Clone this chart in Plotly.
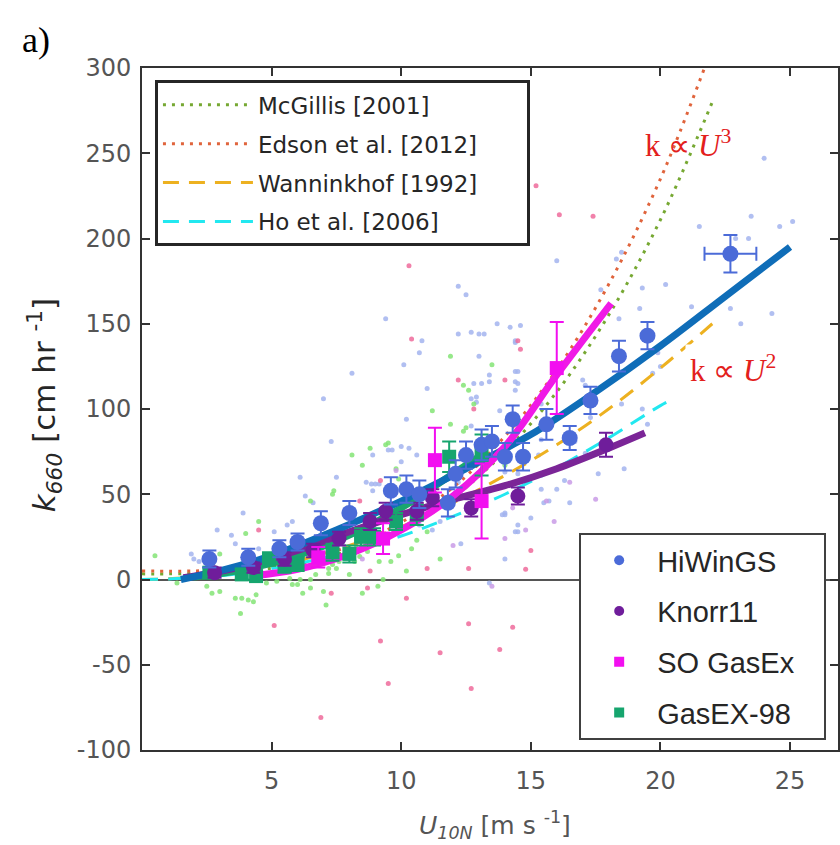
import plotly.graph_objects as go

# ---------------- data ----------------
# individual (light) points
hw_pts_u = [24.0,25.1,24.6,23.5,21.5,22.9,23.4,22.7,24.3,23.1,20.2,19.3,19.2,18.4,17.7,16.0,12.2,12.5,13.7,14.2,14.6,13.0,12.7,10.8,18.5,18.3,17.1,17.0,19.9,19.7,14.4,15.4,18.5,19.3,19.5,20.0,18.5,14.5,15.4,16.0,16.3,17.6,15.0,14.5,14.0,16.7,17.1,18.6,15.7,9.4,12.2,13.2,10.7,10.1,14.4,13.0,14.4,12.8,13.1,13.4,12.7,12.9,14.4,14.5,10.2,9.5,8.9,10.0,10.6,11.35,12.2,8.65,9.0,10.3,15.4,15.6,15.3,14.2,14.0,15.5,13.9,7.0,8.1,7.3,6.1,7.5,6.3,6.6,3.9,2.9,3.45,1.9,2.2,5.1,5.6,5.8,7.5,7.6,8.3,9.8,10.7,11.2,11.5,12.3,13.4,14.0,14.4,14.5,14.0,14.5,13.4,13.8,14.4,12.7,12.9,9.65,10.0,8.9,9.15,3.6,4.5,2.0,7.2,8.85,16.5,17.3,21.2,11.0]
hw_pts_k = [247,210,207,213,207,200,200,159,156,150,173,171,159,153,170,187,172,167,150,148,149,144,145,140,192,188,114,117,133,121,116,103,103,100,91,125,122,62,53,53,58,62,36,28,38,81,74,65,46,153,144,144,133,126,139,131,122,115,115,116,106,107,111,115,94,76,73,69,73,57,57,57,56,77,82,91,73,56,63,45,38,106,121,81,60,60,49,45,39,29,26,15,10.5,28,32,34,29,21,30,32,32,29,34,21,-2,12,28,32,39,122,120,99,140,90,104,76,78,52,56,21,18,12,24,56,45,95,160,112]

g98_pts_u = [1.35,2.5,2.7,3.0,3.6,3.85,4.1,4.3,4.4,3.8,5.8,6.0,6.2,6.5,7.0,7.1,8.5,9.1,5.2,0.5,3.0,4.5,4.0,7.2,8.1,8.5,7.4,6.5,7.2,7.5,8.2,8.4,8.7,6.5,11.9,13.5,12.4,11.2,12.8,9.5,8.8,7.35,11.0,10.6,10.4,9.9,9.6,9.15,9.3,6.1,5.7,7.35,7.6,12.4,9.9,9.8,13.5,14.0,12.6,9.4,11.9,12.5,6.7,4.8,8.0,10.2,11.5]
g98_pts_k = [-2,-4,-8,-7,-11,-11,-12,-13,-9,-20,-3,-3,-8,-5,-7,-15,-8,-4,-1,14,15,34,27,6.5,73,67,52,46,3.5,6.5,10.5,13.5,16.4,0,131,126,114,99,103,80,77,50,28,23,18,14,10.5,10.5,0,0,0.6,8.8,10.5,87,59,65,81,67,111,79,91,89,3,-2,3,5,12]

so_pts_u = [5.1,9.2,9.5,6.9,10.2,11.5,12.6,12.7,13.8,14.3,7.3,8.7,11.0,12.6,14.8,15.0,10.4,14.6,12.2,12.8,4.5,8.8,14.0,9.2,15.2,16.1,17.4,12.2,10.3,14.5,8.4]
so_pts_k = [-27,-36,-61,-81,-11,-43,-26,-64,-41,-28,-8,-5,6.5,6.5,6,17,141,135,117,100,29,5,117,58,231,214,213,234,184,140,46]

kn_pts_u = [13.5,13.4,14.3,14.8,15.9,15.6,16.5,10.0,12.0,8.5,17.5,9.8,12.3,14.0]
kn_pts_k = [-4,217,42,29,34,46,57,30,20,12,47,64,50,24]

# bin averages
hw_u = [2.6,4.1,5.3,6.0,6.9,8.0,9.6,10.2,10.7,11.8,12.1,12.5,13.1,13.5,14.0,14.3,14.7,15.6,16.5,17.3,18.4,19.5,22.7]
hw_k = [12,13,18,22,33,39,52,53,50,45,62,73,79,81,72,94,72,91,83,105,131,143,191]
hw_e = [5,5,5,5,7,7,8,8,8,8,8,8,9,9,8,8,8,9,7,8,9,8,11]
hw_xe = [0,0,0,0,0,0,0,0,0,0,0,0,0,0,0,0,0,0,0,0,0,0,1.0]

kn_u = [2.8,4.3,5.5,6.6,7.6,8.8,9.4,10.6,11.2,12.7,14.5,17.9]
kn_k = [4,7,12,17,24,34,40,40,48,42,49,79]
kn_e = [3,3,4,4,4,5,5,5,5,5,5,7]

so_u = [6.8,9.3,11.3,13.1,16.0]
so_k = [13,24,70,46,124]
so_e = [6,9,19,22,27]

g98_u = [2.6,3.85,4.4,4.9,5.5,6.0,7.35,8.0,8.45,8.95,9.8,10.6,11.85,13.1]
g98_k = [4,3,2,12,8,9,16,15,25,25,34,38,72,73]
g98_e = [3,3,3,4,4,4,5,5,5,5,5,6,9,12]

# fitted curves
hw_fit_u = [1.5,3,5,7.5,10,12.5,15,17.5,20,22.5,25]
hw_fit_k = [0,5,14,29,46,65,85,110,137,166,195]
so_fit_u = [4.2,6,8,10,12,14,16,18.1]
so_fit_k = [2,6,15,29,49,78,120,162]
kn_fit_u = [1.6,4,6,8,10,12,14,16,18,19.4]
kn_fit_k = [1,8,17,28,38,47,55,65,77,86]
g98_fit_u = [2,4,6,8,10,12,13.1]
g98_fit_k = [1.5,6,14,26,42,62,73]

# published parameterisations
mcg_u = [0,2,4,6,8,10,12,14,16,18,20,22]
mcg_k = [3.3,3.5,5,9,17,29,48,75,110,155,211,280]
eds_u = [0,2,4,6,8,10,12,14,16,18,20,21.7]
eds_k = [5,5,6.5,11,19.5,33.5,54,84,123,173,235,300]
wan_u = [0,2,4,6,8,10,12,14,16,18,20,22]
wan_k = [0,1.2,5,11,20,31,45,61,79,100,124,150]
ho_u = [0,2,4,6,8,10,12,14,16,18,20,20.5]
ho_k = [0,1,4,9.3,16.4,25.5,37,50,65.5,83,102,106]

x_ticks = [5,10,15,20,25]
x_tick_text = ["5","10","15","20","25"]
y_ticks = [-100,-50,0,50,100,150,200,250,300]
y_tick_text = ["-100","-50","0","50","100","150","200","250","300"]

ref_names = ["McGillis [2001]", "Edson et al. [2012]", "Wanninkhof [1992]", "Ho et al. [2006]"]
campaigns = ["HiWinGS", "Knorr11", "SO GasEx", "GasEX-98"]

# ---------------- figure ----------------
SANS = "Liberation Sans, Arial, sans-serif"
WIDE = "DejaVu Sans, sans-serif"
SERIF = "Liberation Serif, Times New Roman, serif"
NB = "\u00a0"
fig = go.Figure()

def dots(u, k, color):
    fig.add_trace(go.Scatter(x=u, y=k, mode="markers", showlegend=False, hoverinfo="skip",
                             marker=dict(size=5, color=color, opacity=0.85, line=dict(width=0))))

dots(hw_pts_u, hw_pts_k, "#a3b4ef")
dots(g98_pts_u, g98_pts_k, "#84e475")
dots(kn_pts_u, kn_pts_k, "#c99be6")
dots(so_pts_u, so_pts_k, "#ee6b9b")

# legend 1: parameterisations
ref = [(ref_names[0], mcg_u, mcg_k, "#76a832", "3px,6px"),
       (ref_names[1], eds_u, eds_k, "#e0643c", "3px,6px"),
       (ref_names[2], wan_u, wan_k, "#edb120", "16px,10px"),
       (ref_names[3], ho_u, ho_k, "#22e8f0", "16px,10px")]
for i, (name, u, k, c, d) in enumerate(ref):
    fig.add_trace(go.Scatter(x=u, y=k, mode="lines", name=name + NB * 6, legend="legend",
                             legendgroup="r%d" % i, line=dict(color=c, width=3, dash=d, shape="spline")))

# fit lines
for u, k, c in [(g98_fit_u, g98_fit_k, "#19a66f"), (kn_fit_u, kn_fit_k, "#7b2597"),
                (hw_fit_u, hw_fit_k, "#0f6db8"), (so_fit_u, so_fit_k, "#f019e6")]:
    fig.add_trace(go.Scatter(x=u, y=k, mode="lines", showlegend=False, hoverinfo="skip",
                             line=dict(color=c, width=7, shape="spline")))

# bin averages with error bars
def bins(u, k, e, color, symbol, size, xe=None):
    fig.add_trace(go.Scatter(
        x=u, y=k, mode="markers", showlegend=False,
        marker=dict(color=color, symbol=symbol, size=size, line=dict(width=0)),
        error_y=dict(type="data", array=e, color=color, thickness=2, width=7),
        error_x=dict(type="data", array=xe, color=color, thickness=2, width=7, visible=xe is not None)))

bins(g98_u, g98_k, g98_e, "#16a56e", "square", 14)
bins(kn_u, kn_k, kn_e, "#6f1d9b", "circle", 15)
bins(hw_u, hw_k, hw_e, "#4b6bd8", "circle", 16, hw_xe)
bins(so_u, so_k, so_e, "#f20ff0", "square", 14)

# legend 2: campaigns
for i, (name, c, s) in enumerate(zip(campaigns, ["#4b6bd8", "#6f1d9b", "#f20ff0", "#16a56e"],
                                     ["circle", "circle", "square", "square"])):
    fig.add_trace(go.Scatter(x=[None], y=[None], mode="markers", name=name + NB * 3, legend="legend2",
                             legendgroup="c%d" % i, marker=dict(color=c, symbol=s, size=10)))

axis_common = dict(showgrid=False, ticks="inside", ticklen=8, tickwidth=1.5, tickcolor="#333333",
                   showline=True, linecolor="#333333", linewidth=2, mirror="ticks",
                   tickfont=dict(family=WIDE, size=24, color="#555555"))
fig.update_xaxes(range=[0, 26.85], tickvals=x_ticks, ticktext=x_tick_text, zeroline=False,
                 ticklabelstandoff=8, **axis_common)
fig.update_yaxes(range=[-100, 300], tickvals=y_ticks, ticktext=y_tick_text, zeroline=True,
                 zerolinecolor="#555555", zerolinewidth=1.5, ticklabelstandoff=4, **axis_common)

fig.update_layout(
    width=840, height=845, margin=dict(l=142, r=0, t=68, b=95),
    paper_bgcolor="white", plot_bgcolor="white",
    font=dict(family=SANS, color="#262626"),
    legend=dict(x=0.0186, y=0.982, xanchor="left", yanchor="top", bgcolor="white",
                bordercolor="#262626", borderwidth=3, font=dict(family=WIDE, size=23, color="#262626"),
                tracegroupgap=6, itemwidth=90),
    legend2=dict(x=0.983, y=0.0147, xanchor="right", yanchor="bottom", bgcolor="white",
                 bordercolor="#404040", borderwidth=2, font=dict(family=SANS, size=29, color="#262626"),
                 tracegroupgap=10, itemwidth=66),
    annotations=[
        dict(text="a)", xref="paper", yref="paper", x=-0.152, y=1.041, xanchor="center", yanchor="middle",
             showarrow=False, font=dict(family=SERIF, size=36, color="black")),
        dict(text="<i>k</i><sub><i>660</i></sub> [cm hr <sup>-1</sup>]", xref="paper", yref="paper",
             x=-0.139, y=0.506, xanchor="center", yanchor="middle", textangle=-90, showarrow=False,
             font=dict(family=WIDE, size=31, color="#262626")),
        dict(text="<i>U</i><sub><i>10N</i></sub> [m s <sup>-1</sup>]", xref="paper", yref="paper",
             x=0.507, y=-0.11, xanchor="center", yanchor="middle", showarrow=False,
             font=dict(family=WIDE, size=25, color="#555555")),
        dict(text="k ∝ <i>U</i><sup>3</sup>", x=21.08, y=256, showarrow=False,
             font=dict(family=SERIF, size=31, color="#e3201c")),
        dict(text="k ∝ <i>U</i><sup>2</sup>", x=22.8, y=124, showarrow=False, bgcolor="white",
             borderpad=4, font=dict(family=SERIF, size=31, color="#e3201c")),
    ],
)

fig.write_html("out.html")
